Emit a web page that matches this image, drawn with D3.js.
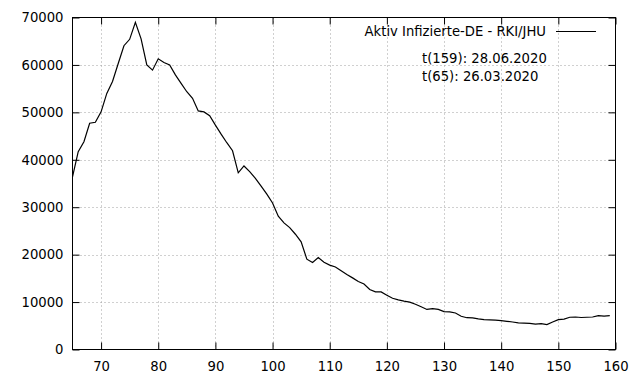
<!doctype html>
<html>
<head>
<script src="https://d3js.org/d3.v7.min.js"></script>
<style>
  body { margin: 0; background: #fff; }
  text { font-family: "DejaVu Sans", sans-serif; font-size: 13.2px; fill: #000; }
</style>
</head>
<body>
<svg width="640" height="384"></svg>
<script>
// day numbers (t) and active infections in Germany
var days = d3.range(65, 160);
var active = [
  36400, 41700, 43800, 47700, 47900, 50100, 54000, 56500, 60300, 64050,
  65400, 69000, 65500, 60000, 58900, 61300, 60500, 60000, 57900, 56100,
  54350, 52950, 50300, 50100, 49300, 47300, 45400, 43600, 41900, 37250,
  38700, 37500, 36100, 34450, 32750, 30900, 28100, 26700, 25700, 24300,
  22700, 19050, 18350, 19400, 18400, 17800, 17400, 16600, 15800, 15100,
  14350, 13800, 12650, 12150, 12150, 11450, 10800, 10450, 10200, 10000,
  9550, 9000, 8450, 8600, 8450, 8000, 7950, 7700, 7000, 6700,
  6650, 6450, 6300, 6250, 6200, 6100, 5950, 5800, 5600, 5550,
  5500, 5350, 5450, 5250, 5800, 6300, 6400, 6800, 6850, 6750,
  6800, 6850, 7150, 7050, 7150
];
var xTicks = [70, 80, 90, 100, 110, 120, 130, 140, 150, 160];
var yTicks = [0, 10000, 20000, 30000, 40000, 50000, 60000, 70000];
var legendLabel = "Aktiv Infizierte-DE - RKI/JHU";
var notes = ["t(159): 28.06.2020", "t(65): 26.03.2020"];

var svg = d3.select("svg");
var plotL = 72.5, plotR = 615.5, plotT = 17.5, plotB = 349.5;
var tick = 7;

var x = d3.scaleLinear().domain([65, 160]).range([plotL, plotR]);
var y = d3.scaleLinear().domain([0, 70000]).range([plotB, plotT]);

// grid
var grid = svg.append("g")
  .attr("stroke", "#a0a0a0")
  .attr("stroke-width", 1)
  .attr("stroke-dasharray", "1,3");
grid.selectAll(".gx").data(xTicks.filter(d => d < 160)).enter().append("line")
  .attr("x1", d => Math.round(x(d)) + 0.5).attr("x2", d => Math.round(x(d)) + 0.5)
  .attr("y1", plotT).attr("y2", plotB);
grid.selectAll(".gy").data(yTicks.filter(d => d > 0 && d < 70000)).enter().append("line")
  .attr("y1", d => Math.round(y(d)) + 0.5).attr("y2", d => Math.round(y(d)) + 0.5)
  .attr("x1", plotL).attr("x2", plotR);

// axes (inward ticks, mirrored)
function noLabels(ax) { return ax.tickFormat("").tickSizeOuter(0); }

svg.append("g").attr("transform", "translate(0," + plotB + ")")
  .call(d3.axisBottom(x).tickValues(xTicks).tickFormat(d3.format("d")).tickSizeInner(-tick).tickSizeOuter(0).tickPadding(12))
  .call(g => g.select(".domain").remove());
svg.append("g").attr("transform", "translate(0," + plotT + ")")
  .call(noLabels(d3.axisTop(x).tickValues(xTicks).tickSizeInner(-tick)))
  .call(g => g.select(".domain").remove());
svg.append("g").attr("transform", "translate(" + plotL + ",0)")
  .call(d3.axisLeft(y).tickValues(yTicks).tickFormat(d3.format("d")).tickSizeInner(-tick).tickSizeOuter(0).tickPadding(9))
  .call(g => g.select(".domain").remove());
svg.append("g").attr("transform", "translate(" + plotR + ",0)")
  .call(noLabels(d3.axisRight(y).tickValues(yTicks).tickSizeInner(-tick)))
  .call(g => g.select(".domain").remove());

svg.selectAll(".tick line").attr("stroke", "#000");
svg.selectAll(".tick text").style("font-size", "13.2px").attr("fill", "#000");

// border
svg.append("rect")
  .attr("x", plotL).attr("y", plotT)
  .attr("width", plotR - plotL).attr("height", plotB - plotT)
  .attr("fill", "none").attr("stroke", "#000").attr("stroke-width", 1);

// data line
var line = d3.line().x((d, i) => x(days[i])).y(d => y(d));
svg.append("path")
  .datum(active)
  .attr("d", line)
  .attr("fill", "none")
  .attr("stroke", "#000")
  .attr("stroke-width", 1.2);

// legend
svg.append("text")
  .attr("x", 546).attr("y", 36)
  .attr("text-anchor", "end")
  .text(legendLabel);
svg.append("line")
  .attr("x1", 556).attr("x2", 596)
  .attr("y1", 31.5).attr("y2", 31.5)
  .attr("stroke", "#000").attr("stroke-width", 1.2);

svg.selectAll(".note").data(notes).enter().append("text")
  .attr("x", 422)
  .attr("y", (d, i) => 63 + i * 18)
  .text(d => d);
</script>
</body>
</html>
